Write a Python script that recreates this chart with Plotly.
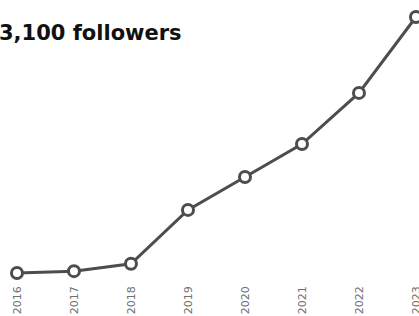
import plotly.graph_objects as go

years = ["2016", "2017", "2018", "2019", "2020", "2021", "2022", "2023"]
followers = [300, 320, 400, 990, 1350, 1710, 2270, 3100]
title_text = "3,100 followers"

fig = go.Figure()
fig.add_trace(go.Scatter(
    x=years, y=followers, mode="lines+markers",
    line=dict(color="#4d4d4d", width=3),
    marker=dict(size=11, color="white", line=dict(color="#4d4d4d", width=3)),
    cliponaxis=False, hoverinfo="skip",
))
fig.add_annotation(
    x=0, y=1, xref="paper", yref="paper", xanchor="left", yanchor="top",
    yshift=-19, xshift=-3,
    text="<b>" + title_text + "</b>", showarrow=False,
    font=dict(family="DejaVu Sans", size=21, color="#111111"),
)
fig.update_layout(
    width=419, height=316, margin=dict(l=0, r=0, t=0, b=36),
    paper_bgcolor="white", plot_bgcolor="white", showlegend=False,
    xaxis=dict(type="category", range=[-0.298, 7.053], showgrid=False, zeroline=False,
               showline=False, ticks="", tickangle=-90, automargin=False,
               ticklabelstandoff=3,
               tickfont=dict(family="DejaVu Sans", size=11, color="#707070")),
    yaxis=dict(range=[223, 3286], visible=False, automargin=False),
)
fig.write_html("out.html", post_script="document.body.style.margin='0';",
               config={"displayModeBar": False, "staticPlot": True})
